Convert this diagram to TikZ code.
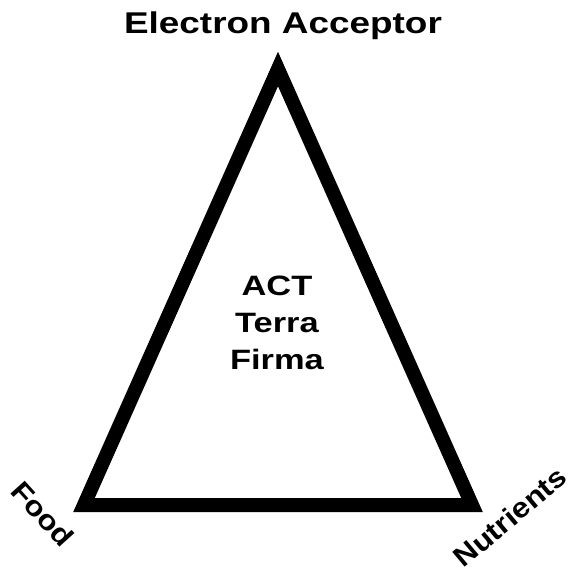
\documentclass[tikz,border=0pt]{standalone}
\usepackage{fontspec}
\setmainfont{Liberation Sans}
\newfontfamily\widefont[FakeStretch=1.23]{Liberation Sans}
\newfontfamily\rotfont[FakeStretch=1.12]{Liberation Sans}
\begin{document}
\begin{tikzpicture}[x=1pt,y=-1pt,
  lbl/.style={font=\widefont\bfseries\fontsize{28}{37}\selectfont, inner sep=0pt, align=center},
  toplbl/.style={font=\widefont\bfseries\fontsize{30}{37}\selectfont, inner sep=0pt},
  rotlbl/.style={font=\rotfont\bfseries\fontsize{28}{37}\selectfont, inner sep=0pt},
  tri/.style={line width=14pt, line join=miter}]
\useasboundingbox (0,0) rectangle (571,570);
\coordinate (A) at (278,69);
\coordinate (B) at (84,505);
\coordinate (C) at (472,505);
\draw[tri] (A) -- (B) -- (C) -- cycle;
\node[toplbl, anchor=base] (top) at (283,34) {Electron Acceptor};
\node[lbl] (mid) at (277,323) {ACT\\Terra\\Firma};
\node[rotlbl, rotate=-48] (food) at (43,514) {Food};
\node[rotlbl, rotate=40] (nut) at (510,517) {Nutrients};
\end{tikzpicture}
\end{document}
